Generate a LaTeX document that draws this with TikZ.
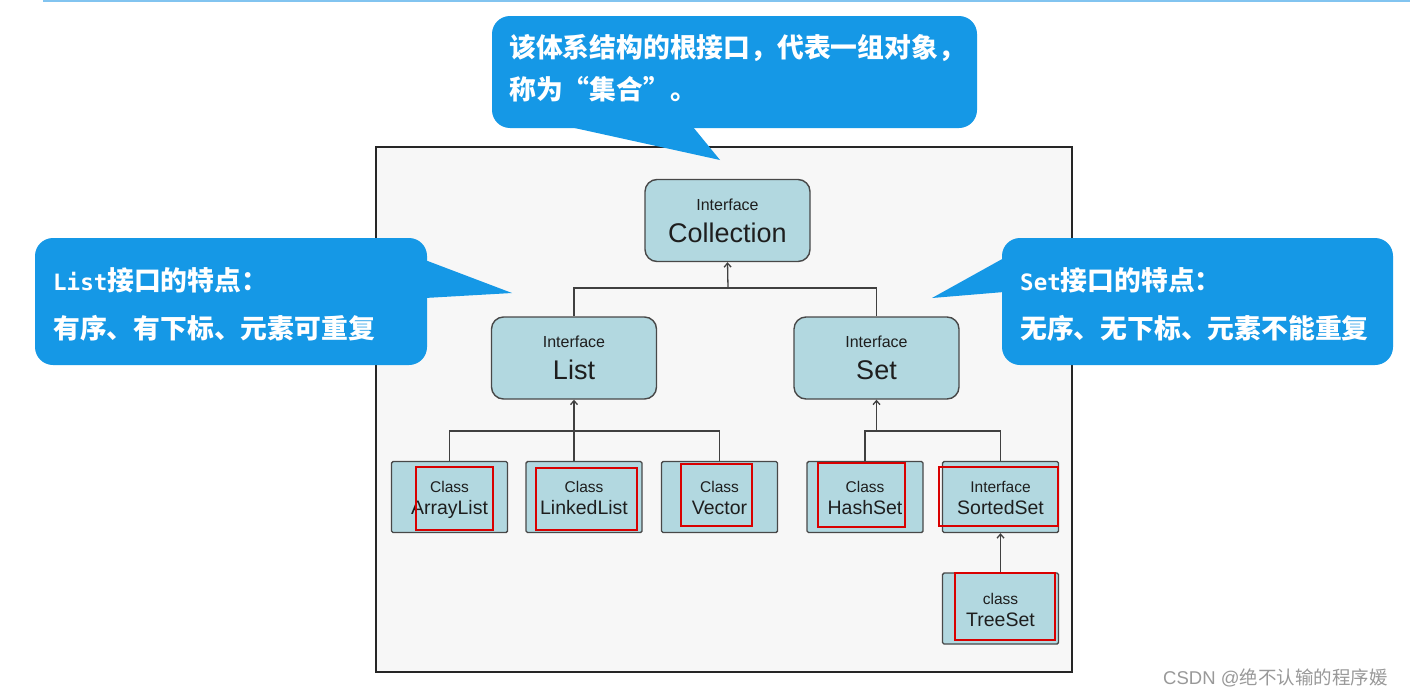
\documentclass[tikz,border=0pt]{standalone}
\usepackage{fontspec}
\setmainfont{Liberation Sans}
\newfontfamily\cjk{Noto Sans CJK SC}
\newfontfamily\monob{DejaVu Sans Mono}
\usetikzlibrary{arrows.meta}
\definecolor{callblue}{RGB}{21,152,230}
\definecolor{boxfill}{RGB}{178,216,224}
\definecolor{boxline}{RGB}{72,72,72}
\definecolor{framefill}{RGB}{247,247,247}
\definecolor{topline}{RGB}{130,196,240}
\definecolor{boxtext}{RGB}{30,30,30}
\tikzset{
  ibox/.style={draw=boxline, line width=1.4pt, fill=boxfill, rounded corners=12pt,
    minimum width=165pt, minimum height=82pt, align=center, inner sep=0pt, text=boxtext,
    font=\fontsize{27}{32}\selectfont},
  cbox/.style={draw=boxline, line width=1.4pt, fill=boxfill, rounded corners=1.5pt,
    minimum width=116pt, minimum height=71pt, align=center, inner sep=0pt, text=boxtext,
    font=\fontsize{19.5}{22}\selectfont},
  redbox/.style={draw=red!85!black, line width=1.2pt},
  conn/.style={draw=black!75, line width=1.3pt},
  arr/.style={conn, -{Straight Barb[length=4pt,width=7pt]}},
  callout/.style={fill=callblue, draw=none},
  ctext/.style={anchor=base west, inner sep=0pt, text=white, font=\cjk\bfseries\fontsize{26.8}{30}\selectfont},
}
\newcommand{\smalltxt}[1]{{\fontsize{16}{16}\selectfont #1}}
\newcommand{\ctxt}[1]{{\fontsize{15.5}{16}\selectfont\rule{0pt}{17.5pt}#1}}
\begin{document}
\begin{tikzpicture}[x=1pt,y=-1pt]
\useasboundingbox (0,0) rectangle (1410,696);
\fill[white] (0,0) rectangle (1410,696);
% top line
\draw[topline, line width=2.5pt] (43,1) -- (1410,1);
% frame
\draw[fill=framefill, draw=black!85, line width=1.5pt] (376,147) rectangle (1072,672);

% interface boxes
\node[ibox] (Coll) at (727.5,220.5) {\smalltxt{Interface}\\Collection};
\node[ibox] (List) at (574,358) {\smalltxt{Interface}\\List};
\node[ibox] (Set) at (876.5,358) {\smalltxt{Interface}\\Set};

% class boxes
\node[cbox] (ArrayList) at (449.5,497) {\ctxt{Class}\\ArrayList};
\node[cbox] (LinkedList) at (584,497) {\ctxt{Class}\\LinkedList\vphantom{y}};
\node[cbox] (Vector) at (719.5,497) {\ctxt{Class}\\Vector\vphantom{y}};
\node[cbox] (HashSet) at (865,497) {\ctxt{Class}\\HashSet\vphantom{y}};
\node[cbox] (SortedSet) at (1000.5,497) {\ctxt{Interface}\\SortedSet\vphantom{y}};
\node[cbox] (TreeSet) at (1000.5,608.5) {\ctxt{class}\\TreeSet\vphantom{y}};

% red highlight rectangles
\draw[redbox] (416,467) rectangle (493,530);
\draw[redbox] (536,468) rectangle (637,530);
\draw[redbox] (681,464) rectangle (752,526);
\draw[redbox] (818,463) rectangle (905,527);
\draw[redbox] (939,467) rectangle (1058,526);
\draw[redbox] (955,573) rectangle (1055,640);

% connectors
\coordinate (cj) at (728,288);
\draw[arr] (cj) -- (Coll.south);
\draw[conn] (List.north) |- (cj) -| (Set.north);

\coordinate (lj) at (573,431);
\draw[conn] (ArrayList.north) |- (lj) -| (Vector.north);
\draw[arr] (LinkedList.north -| List.south) -- (List.south);

\coordinate (sj) at (876.5,431);
\draw[conn] (HashSet.north) |- (sj) -| (SortedSet.north);
\draw[arr] (sj) -- (Set.south);

\draw[arr] (TreeSet.north) -- (SortedSet.south);

% callouts
\fill[callout, rounded corners=18pt] (492,16) rectangle (977,128);
\fill[callout] (570,127) -- (720,160) -- (693,127) -- cycle;
\node[ctext] (t1) at (509,57) {该体系结构的根接口，代表一组对象，};
\node[ctext] (t2) at (509,99) {称为“集合”。};

\fill[callout, rounded corners=18pt] (35,238) rectangle (427,365);
\fill[callout] (425,260) -- (512,293) -- (425,298) -- cycle;
\node[ctext] (l1) at (53,290) {{\monob\bfseries\fontsize{22.5}{26}\selectfont List}接口的特点：};
\node[ctext] (l2) at (53,338) {有序、有下标、元素可重复};

\fill[callout, rounded corners=18pt] (1002,238) rectangle (1393,365);
\fill[callout] (1004,258) -- (932,298) -- (1004,292) -- cycle;
\node[ctext] (r1) at (1020,290) {{\monob\bfseries\fontsize{22.5}{26}\selectfont Set}接口的特点：};
\node[ctext] (r2) at (1020,338) {无序、无下标、元素不能重复};

% watermark
\node[anchor=base west, inner sep=0pt, text=black!40, font=\fontsize{18.5}{20}\selectfont] (wm) at (1163,684) {CSDN @{\cjk 绝不认输的程序媛}};
\end{tikzpicture}
\end{document}
